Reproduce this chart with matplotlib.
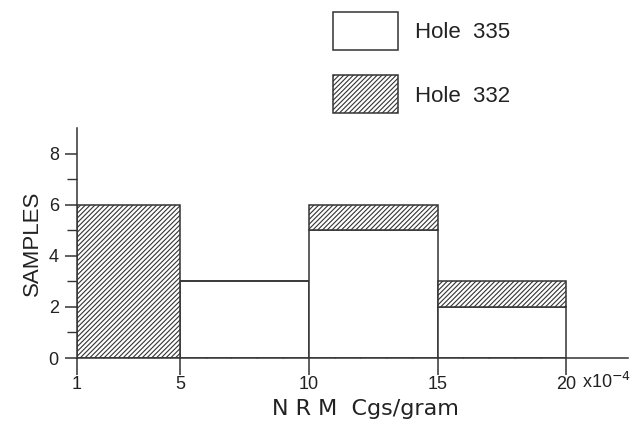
import matplotlib
matplotlib.use("Agg")
import matplotlib.pyplot as plt
from matplotlib.patches import Rectangle

plt.rcParams['font.family'] = ['Liberation Sans', 'DejaVu Sans']
plt.rcParams['hatch.linewidth'] = 0.8

bin_edges = [1, 5, 10, 15, 20]
hole_335 = [0, 3, 5, 2]
hole_332 = [6, 0, 1, 1]
xtick_vals = [1, 5, 10, 15, 20]
xtick_labels = ['1', '5', '10', '15', '20']
ytick_vals = [0, 2, 4, 6, 8]

ink = '#333333'
txt = '#222222'
fig = plt.figure(figsize=(6.41, 4.45), dpi=100)
ax = fig.add_axes([0.120, 0.1955, 0.860, 0.5165])

lefts = bin_edges[:-1]
widths = [b - a for a, b in zip(bin_edges[:-1], bin_edges[1:])]
ax.bar(lefts, hole_335, width=widths, align='edge', color='white',
       edgecolor=ink, linewidth=1.1, zorder=2)
ax.bar(lefts, hole_332, width=widths, bottom=hole_335, align='edge', color='white',
       edgecolor=ink, hatch='///////', linewidth=1.1, zorder=2)

ax.set_xlim(1, 22.4)
ax.set_ylim(0, 9)
for s in ['top', 'right']:
    ax.spines[s].set_visible(False)
for s in ['left', 'bottom']:
    ax.spines[s].set_color(ink)
    ax.spines[s].set_linewidth(1.1)

ax.set_xticks(xtick_vals)
ax.set_xticklabels(xtick_labels)
ax.set_xticks(list(range(2, 21)), minor=True)
ax.set_yticks(ytick_vals)
ax.set_yticks([1, 3, 5, 7], minor=True)
ax.tick_params(axis='x', which='major', direction='out', length=12, width=1.1,
               colors=ink, labelsize=13, pad=1)
ax.tick_params(axis='x', which='minor', direction='in', length=6, width=1, colors=ink)
ax.tick_params(axis='y', which='major', direction='out', length=9, width=1.1,
               colors=ink, labelsize=13, pad=4)
ax.tick_params(axis='y', which='minor', direction='out', length=7, width=1, colors=ink)
for lab in ax.get_xticklabels() + ax.get_yticklabels():
    lab.set_color(txt)

ax.text(20.62, -0.95, 'x10$^{-4}$', fontsize=13, color=txt, va='center', ha='left',
        transform=ax.transData, clip_on=False)

ax.set_xlabel('N R M  Cgs/gram', fontsize=16, color=txt, labelpad=4,
              family=['DejaVu Sans'])
ax.xaxis.label.set_x(0.523)
ax.set_ylabel('SAMPLES', fontsize=16, color=txt, labelpad=4)

# legend (outside top right)
fig.patches.append(Rectangle((333 / 641, 1 - 50 / 445), 65 / 641, 38 / 445,
                             transform=fig.transFigure, facecolor='white',
                             edgecolor=ink, linewidth=1.1))
fig.patches.append(Rectangle((333 / 641, 1 - 113 / 445), 65 / 641, 38 / 445,
                             transform=fig.transFigure, facecolor='white',
                             edgecolor=ink, linewidth=1.1, hatch='///////'))
fig.text(415 / 641, 1 - 32 / 445, 'Hole  335', fontsize=16, color=txt, va='center')
fig.text(415 / 641, 1 - 96 / 445, 'Hole  332', fontsize=16, color=txt, va='center')

fig.savefig('out.png', dpi=100)
